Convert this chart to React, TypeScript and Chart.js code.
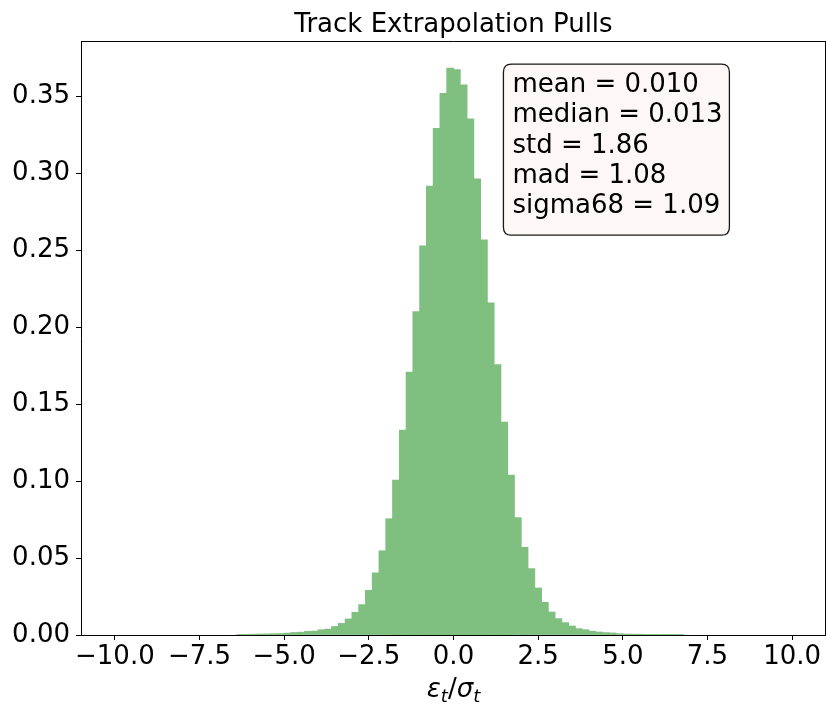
import React, { useEffect, useRef } from "react";
import { Chart, registerables } from "chart.js";

Chart.register(...registerables);

// Histogram: 100 bins of width 0.2 from -10 to 10 (density)
const binStart = -10;
const binWidth = 0.2;
const density = [
  0, 0, 0, 0, 0, 0, 0, 0, 0, 0,
  0, 0, 0, 0, 0, 0, 0, 0, 0.0003, 0.0004,
  0.0005, 0.0006, 0.0007, 0.0008, 0.0009, 0.0012, 0.0016, 0.0018, 0.0023, 0.0025,
  0.0034, 0.0038, 0.0055, 0.0075, 0.0104, 0.0147, 0.0197, 0.029, 0.0403, 0.0547,
  0.0755, 0.1006, 0.1331, 0.1708, 0.2101, 0.2528, 0.2916, 0.3292, 0.3519, 0.3682,
  0.3673, 0.3573, 0.3353, 0.2963, 0.2567, 0.2158, 0.1757, 0.1382, 0.1038, 0.0762,
  0.0569, 0.0431, 0.0305, 0.0212, 0.0149, 0.0106, 0.008, 0.0058, 0.0041, 0.0034,
  0.0024, 0.0019, 0.0015, 0.0013, 0.0008, 0.0006, 0.0005, 0.0005, 0.0004, 0.0004,
  0.0003, 0.0001, 0.0001, 0.0003, 0, 0, 0, 0, 0, 0,
  0, 0, 0, 0, 0, 0, 0, 0, 0, 0,
];

const xTicks = [-10, -7.5, -5, -2.5, 0, 2.5, 5, 7.5, 10];
const yTicks = [0, 0.05, 0.1, 0.15, 0.2, 0.25, 0.3, 0.35];
const xRange = [-11, 11];
const yRange = [0, 0.3859];

const titleText = "Track Extrapolation Pulls";
const statsLines = [
  "mean = 0.010",
  "median = 0.013",
  "std = 1.86",
  "mad = 1.08",
  "sigma68 = 1.09",
];

const FONT = "'DejaVu Sans', sans-serif";
const fmtMinus = (s: string) => s.replace("-", "\u2212");

const decorPlugin = {
  id: "decor",
  afterDraw(chart: any) {
    const { ctx, chartArea } = chart;
    const { left, right, top, bottom } = chartArea;
    ctx.save();
    // top & right spines
    ctx.strokeStyle = "#000";
    ctx.lineWidth = 1;
    ctx.beginPath();
    ctx.moveTo(left, top + 0.5);
    ctx.lineTo(right, top + 0.5);
    ctx.moveTo(right - 0.5, top);
    ctx.lineTo(right - 0.5, bottom);
    ctx.stroke();

    // title
    const cx = (left + right) / 2;
    ctx.fillStyle = "#000";
    ctx.font = `26px ${FONT}`;
    ctx.textAlign = "center";
    ctx.textBaseline = "alphabetic";
    ctx.fillText(titleText, cx, top - 9);

    // x label: epsilon_t / sigma_t
    const big = `italic 26px ${FONT}`;
    const small = `italic 18px ${FONT}`;
    const up = `26px ${FONT}`;
    const parts: [string, string, number][] = [
      ["\u03b5", big, 0],
      ["t", small, 5],
      ["/", up, 0],
      ["\u03c3", big, 0],
      ["t", small, 5],
    ];
    let total = 0;
    for (const [t, f] of parts) {
      ctx.font = f;
      total += ctx.measureText(t).width;
    }
    let x = cx - total / 2;
    const base = bottom + 62;
    ctx.textAlign = "left";
    for (const [t, f, dy] of parts) {
      ctx.font = f;
      ctx.fillText(t, x, base + dy);
      x += ctx.measureText(t).width;
    }

    // stats box (axes-fraction placement)
    const w = right - left;
    const h = bottom - top;
    const bx = left + 0.567 * w;
    const by = top + 0.039 * h;
    const bw = 226;
    const bh = 171;
    const r = 8;
    ctx.beginPath();
    ctx.moveTo(bx + r, by);
    ctx.lineTo(bx + bw - r, by);
    ctx.quadraticCurveTo(bx + bw, by, bx + bw, by + r);
    ctx.lineTo(bx + bw, by + bh - r);
    ctx.quadraticCurveTo(bx + bw, by + bh, bx + bw - r, by + bh);
    ctx.lineTo(bx + r, by + bh);
    ctx.quadraticCurveTo(bx, by + bh, bx, by + bh - r);
    ctx.lineTo(bx, by + r);
    ctx.quadraticCurveTo(bx, by, bx + r, by);
    ctx.closePath();
    ctx.fillStyle = "#fdf8f7";
    ctx.fill();
    ctx.strokeStyle = "#1a1a1a";
    ctx.lineWidth = 1.3;
    ctx.stroke();

    ctx.fillStyle = "#000";
    ctx.font = `26px ${FONT}`;
    ctx.textAlign = "left";
    ctx.textBaseline = "alphabetic";
    statsLines.forEach((line, i) => {
      ctx.fillText(line, bx + 9, by + 28 + i * 30.2);
    });
    ctx.restore();
  },
};

export default function App() {
  const canvasRef = useRef<HTMLCanvasElement | null>(null);

  useEffect(() => {
    document.body.style.margin = "0";
    const canvas = canvasRef.current;
    if (!canvas) return;
    const points = density
      .map((y, i) => ({ x: binStart + binWidth * (i + 0.5), y }))
      .filter((p) => p.y > 0);
    const chart = new Chart(canvas, {
      type: "bar",
      data: {
        datasets: [
          {
            data: points as any,
            backgroundColor: "#7fbf7f",
            borderWidth: 0,
            barPercentage: 1,
            categoryPercentage: 1,
            inflateAmount: 0.4,
          } as any,
        ],
      },
      options: {
        animation: false,
        responsive: false,
        devicePixelRatio: 1,
        layout: { padding: { top: 41, left: 0, right: 0, bottom: 0 } },
        plugins: {
          legend: { display: false },
          tooltip: { enabled: false },
          title: { display: false },
        },
        scales: {
          x: {
            type: "linear",
            offset: false,
            min: xRange[0],
            max: xRange[1],
            afterBuildTicks: (s: any) => {
              s.ticks = xTicks.map((v) => ({ value: v }));
            },
            afterFit: (s: any) => {
              s.height = 69;
            },
            ticks: {
              autoSkip: false,
              maxRotation: 0,
              minRotation: 0,
              padding: 2,
              color: "#000",
              font: { family: FONT, size: 26 },
              callback: (v: any) => fmtMinus(Number(v).toFixed(1)),
            },
            grid: {
              offset: false,
              drawOnChartArea: false,
              drawTicks: true,
              tickLength: 5,
              tickColor: "#000",
              tickWidth: 1,
            },
            border: { display: true, color: "#000", width: 1 },
          },
          y: {
            type: "linear",
            min: yRange[0],
            max: yRange[1],
            afterBuildTicks: (s: any) => {
              s.ticks = yTicks.map((v) => ({ value: v }));
            },
            afterFit: (s: any) => {
              s.width = 81;
            },
            ticks: {
              autoSkip: false,
              padding: 6,
              color: "#000",
              font: { family: FONT, size: 26 },
              callback: (v: any) => Number(v).toFixed(2),
            },
            grid: {
              drawOnChartArea: false,
              drawTicks: true,
              tickLength: 5,
              tickColor: "#000",
              tickWidth: 1,
            },
            border: { display: true, color: "#000", width: 1 },
          },
        },
      },
      plugins: [decorPlugin],
    });
    return () => chart.destroy();
  }, []);

  return (
    <div style={{ width: 826, height: 704, background: "#fff" }}>
      <canvas ref={canvasRef} width={826} height={704} />
    </div>
  );
}
